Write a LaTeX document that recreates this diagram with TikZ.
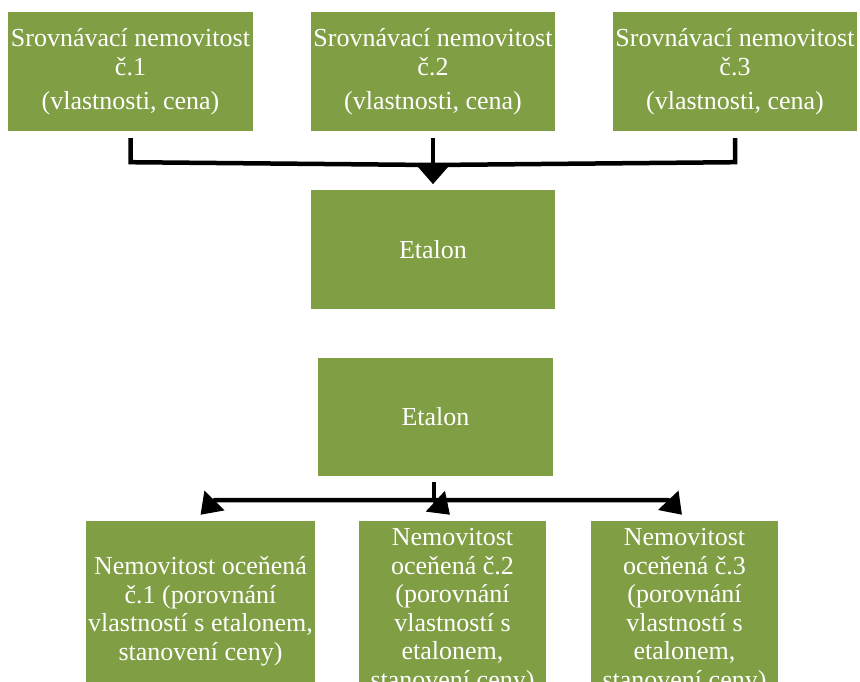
\documentclass[tikz,border=0pt]{standalone}
\usepackage{fontspec}
\setmainfont{Liberation Serif}
\usetikzlibrary{arrows.meta}
\definecolor{boxgreen}{RGB}{128,158,68}
\begin{document}
\begin{tikzpicture}[x=1pt,y=-1pt,
  gbox/.style={fill=boxgreen, draw=none, inner sep=0pt, text=white,
    font=\fontsize{26}{28.5}\selectfont, align=center},
  conn/.style={line width=4.5pt, black},
  tophead/.style={-{Triangle[length=19pt,width=32pt]}},
  bighead/.style={-{Triangle[length=20pt,width=27pt]}}]
\useasboundingbox (0,0) rectangle (860,681);
\clip (0,0) rectangle (860,681);
% top row
\node[gbox, minimum width=245pt, minimum height=119pt] (t1) at (130.5,71.5)
  {Srovnávací nemovitost\\[0.5pt]č.1\\[5.5pt](vlastnosti, cena)};
\node[gbox, minimum width=244pt, minimum height=119pt] (t2) at (433,71.5)
  {Srovnávací nemovitost\\[0.5pt]č.2\\[5.5pt](vlastnosti, cena)};
\node[gbox, minimum width=244pt, minimum height=119pt] (t3) at (735,71.5)
  {Srovnávací nemovitost\\[0.5pt]č.3\\[5.5pt](vlastnosti, cena)};
% etalons
\node[gbox, minimum width=244pt, minimum height=119pt] (e1) at (433,249.5) {Etalon};
\node[gbox, minimum width=235pt, minimum height=118pt] (e2) at (435.5,417) {Etalon};
% bottom row
\node[gbox, minimum width=229pt, minimum height=180pt] (b1) at (200.5,611)
  {Nemovitost oceňená\\č.1 (porovnání\\vlastností s etalonem,\\stanovení ceny)};
\node[gbox, minimum width=187pt, minimum height=180pt] (b2) at (452.5,611)
  {Nemovitost\\oceňená č.2\\(porovnání\\vlastností s\\etalonem,\\stanovení ceny)};
\node[gbox, minimum width=187pt, minimum height=180pt] (b3) at (684.5,611)
  {Nemovitost\\oceňená č.3\\(porovnání\\vlastností s\\etalonem,\\stanovení ceny)};
% top connector
\coordinate (jt) at (433,165);
\draw[conn] ([yshift=-7pt]t1.south) -- ([yshift=-31pt]t1.south) -- (jt)
  -- ([yshift=-31pt]t3.south) -- ([yshift=-7pt]t3.south);
\draw[conn, tophead] ([yshift=-7pt]t2.south) -- ([yshift=-53pt]t2.south);
% bottom connector
\coordinate (jb) at (434,500);
\coordinate (cl) at (215,500);
\coordinate (cr) at (668,500);
\draw[conn] ([yshift=-6pt]e2.south -| jb) -- (jb);
\draw[conn, bighead] (jb) -- (cl) -- ([yshift=6pt]b1.north);
\draw[conn, bighead] (jb) -- ([xshift=-2.5pt,yshift=6pt]b2.north);
\draw[conn, bighead] (jb) -- (cr) -- ([xshift=-2.5pt,yshift=6pt]b3.north);
\end{tikzpicture}
\end{document}
